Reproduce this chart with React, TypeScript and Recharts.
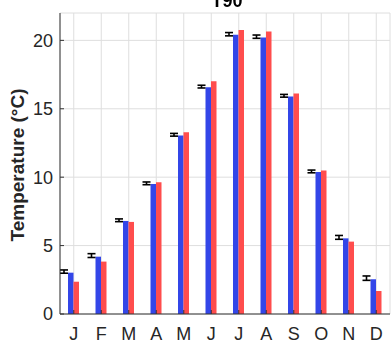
import { Bar, BarChart, CartesianGrid, ErrorBar, XAxis, YAxis } from "recharts"

const months = ["J", "F", "M", "A", "M", "J", "J", "A", "S", "O", "N", "D"]
const blueValues = [3.02, 4.19, 6.8, 9.51, 13.04, 16.58, 20.41, 20.21, 15.9, 10.37, 5.53, 2.54]
const redValues = [2.36, 3.83, 6.73, 9.63, 13.29, 17.02, 20.75, 20.65, 16.12, 10.49, 5.29, 1.68]
const errMeans = [3.1, 4.27, 6.85, 9.55, 13.1, 16.62, 20.45, 20.27, 15.95, 10.42, 5.6, 2.62]
const errSizes = [0.12, 0.14, 0.1, 0.1, 0.1, 0.1, 0.12, 0.12, 0.1, 0.1, 0.14, 0.16]
const yTicks = [0, 5, 10, 15, 20]

const data = months.map((month, i) => ({
  month,
  blue: blueValues[i],
  red: redValues[i],
  mean: errMeans[i],
  err: errSizes[i],
}))

const font = "'Liberation Sans', Arial, sans-serif"
const axisColor = "#333333"

export default function App() {
  return (
    <div style={{ position: "fixed", left: 0, top: 0, width: 391, height: 344, background: "#fff", fontFamily: font }}>
      <BarChart
        width={391}
        height={344}
        data={data}
        margin={{ top: 13, right: 1, bottom: 0, left: 0 }}
        barGap={0}
      >
        <CartesianGrid stroke="#dedede" />
        <XAxis
          dataKey="month"
          height={30}
          stroke={axisColor}
          tickSize={-4}
          tickMargin={17}
          tick={{ fill: "#262626", fontSize: 18, fontFamily: font }}
        />
        <XAxis
          xAxisId="top"
          orientation="top"
          dataKey="month"
          height={0}
          stroke={axisColor}
          tickSize={-4}
          tick={false}
        />
        <YAxis
          domain={[0, 22]}
          ticks={yTicks}
          width={60}
          stroke={axisColor}
          tickSize={-4}
          tickMargin={11}
          tick={{ fill: "#262626", fontSize: 18, fontFamily: font }}
        />
        <YAxis
          yAxisId="right"
          orientation="right"
          domain={[0, 22]}
          ticks={yTicks}
          width={0}
          stroke={axisColor}
          tickSize={-4}
          tick={false}
        />
        <Bar dataKey="mean" barSize={8} fill="#000" fillOpacity={0} isAnimationActive={false}>
          <ErrorBar dataKey="err" width={4} stroke="#000" strokeWidth={1.6} isAnimationActive={false} />
        </Bar>
        <Bar dataKey="blue" barSize={5.5} fill="#3346E8" isAnimationActive={false} />
        <Bar dataKey="red" barSize={5.5} fill="#FF4D4D" isAnimationActive={false} />
        <Bar dataKey="red" barSize={8} fill="#fff" fillOpacity={0} isAnimationActive={false} />
      </BarChart>
      <div
        style={{
          position: "absolute",
          left: 177,
          top: -8,
          width: 100,
          textAlign: "center",
          fontWeight: "bold",
          fontSize: 18,
          lineHeight: "18px",
          color: "#000",
        }}
      >
        T90
      </div>
      <div
        style={{
          position: "absolute",
          left: 18 - 100,
          top: 165 - 11,
          width: 200,
          height: 22,
          lineHeight: "22px",
          textAlign: "center",
          fontWeight: "bold",
          fontSize: 19,
          color: "#262626",
          transform: "rotate(-90deg)",
        }}
      >
        Temperature (°C)
      </div>
    </div>
  )
}
